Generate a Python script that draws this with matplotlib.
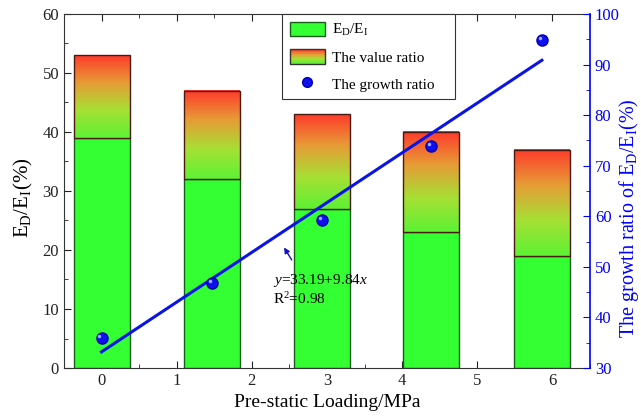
import numpy as np
import matplotlib
matplotlib.use("Agg")
import matplotlib.pyplot as plt
from matplotlib.colors import LinearSegmentedColormap
from matplotlib.patches import Rectangle, Patch
from matplotlib.lines import Line2D
from matplotlib.legend_handler import HandlerBase
from matplotlib.ticker import MultipleLocator
import matplotlib.transforms as mtransforms

plt.rcParams['font.family'] = ['Liberation Serif', 'DejaVu Serif']
plt.rcParams['mathtext.fontset'] = 'custom'
plt.rcParams['mathtext.rm'] = 'Liberation Serif'
plt.rcParams['mathtext.it'] = 'Liberation Serif:italic'

# data
loading = [0, 1.47, 2.93, 4.39, 5.86]       # pre-static loading (MPa)
ed_ei = [39, 32, 27, 23, 19]                  # E_D/E_I (%)
value_ratio = [53, 47, 43, 40, 37]            # top of bar (%)
growth_ratio = [35.9, 46.8, 59.3, 73.9, 94.9] # growth ratio (%)
fit_a, fit_b = 33.19, 9.84
r2 = 0.98

bar_w = 0.745
cmap = LinearSegmentedColormap.from_list(
    'grad', ['#5cf235', '#a6e034', '#e69c36', '#ff3a2c'])

fig = plt.figure(figsize=(6.41, 4.2), dpi=100)
ax = fig.add_axes([0.0998, 0.1238, 0.8206, 0.8429])
ax2 = ax.twinx()

grad = np.linspace(0, 1, 256).reshape(-1, 1)
for x, g, t in zip(loading, ed_ei, value_ratio):
    ax.bar(x, g, width=bar_w, color='#33ff33', edgecolor='#1a5c1a', lw=1, zorder=2)
    ax.imshow(grad, extent=[x - bar_w / 2, x + bar_w / 2, g, t], origin='lower',
              cmap=cmap, aspect='auto', zorder=2)
    ax.add_patch(Rectangle((x - bar_w / 2, g), bar_w, t - g, fill=False,
                           ec='#4a1a10', lw=1, zorder=3))

ax.set_xlim(-0.5, 6.5)
ax.set_ylim(0, 60)
ax.xaxis.set_major_locator(MultipleLocator(1))
ax.xaxis.set_minor_locator(MultipleLocator(0.5))
ax.yaxis.set_major_locator(MultipleLocator(10))
ax.yaxis.set_minor_locator(MultipleLocator(5))
ax.tick_params(which='both', direction='in', top=True, right=False,
               labelsize=12, colors='#222222')
ax.tick_params(which='major', length=5)
ax.tick_params(which='minor', length=3)
ax.spines['right'].set_visible(False)
for s in ['left', 'top', 'bottom']:
    ax.spines[s].set_color('#333333')
ax.set_xlabel('Pre-static Loading/MPa', fontsize=14, labelpad=4)
ax.set_ylabel(r'E$_\mathrm{D}$/E$_\mathrm{I}$(%)', fontsize=15)
ax.yaxis.set_label_coords(-0.055, 0.48)

# growth ratio on the right axis
xs = np.array([loading[0], loading[-1]])
ax2.plot(xs, fit_a + fit_b * xs, color='#0a14e6', lw=2.2, zorder=4)
ax2.plot(loading, growth_ratio, 'o', color='#1010ee', mec='#0000aa', ms=8, zorder=5)
hl = mtransforms.offset_copy(ax2.transData, fig=fig, x=-1.5, y=1.5, units='points')
ax2.plot(loading, growth_ratio, 'o', color='#9fb0ff', mec='none', ms=2.5,
         transform=hl, zorder=6)
ax2.set_ylim(30, 100)
ax2.yaxis.set_major_locator(MultipleLocator(10))
ax2.yaxis.set_minor_locator(MultipleLocator(5))
ax2.tick_params(which='both', direction='in', colors='blue', labelsize=12)
ax2.tick_params(which='major', length=5)
ax2.tick_params(which='minor', length=3)
ax2.spines['right'].set_color('blue')
ax2.spines['right'].set_linewidth(1.2)
for s in ['left', 'top', 'bottom']:
    ax2.spines[s].set_visible(False)
ax2.set_ylabel(r'The growth ratio of E$_\mathrm{D}$/E$_\mathrm{I}$(%)',
               fontsize=14.5, color='blue')
ax2.yaxis.set_label_coords(1.051, 0.424)

ax2.annotate('', xy=(2.41, 54.3), xytext=(2.55, 50.9),
             arrowprops=dict(arrowstyle='-|>', color='#1010cc', lw=1,
                             mutation_scale=8))
ax2.text(2.28, 49.0, r'$y$=%.2f+%.2f$x$' % (fit_a, fit_b) + '\n' + r'R$^2$=%.2f' % r2,
         fontsize=11, va='top', ha='left', linespacing=1.2, zorder=7)


class GradientHandler(HandlerBase):
    def create_artists(self, legend, orig_handle, xdescent, ydescent,
                       width, height, fontsize, trans):
        n = 24
        arts = []
        for i in range(n):
            arts.append(Rectangle((-xdescent, -ydescent + i * height / n), width,
                                  height / n, fc=cmap(i / (n - 1)), ec='none',
                                  transform=trans))
        arts.append(Rectangle((-xdescent, -ydescent), width, height, fill=False,
                              ec='#333333', lw=1, transform=trans))
        return arts


h1 = Patch(fc='#33ff33', ec='#1a5c1a')
h2 = Patch(fc='none')
h3 = Line2D([], [], ls='none', marker='o', color='#1010ee', mec='#0000aa', ms=7)
leg = ax2.legend([h1, h2, h3],
                 [r'E$_\mathrm{D}$/E$_\mathrm{I}$', 'The value ratio', 'The growth ratio'],
                 handler_map={h2: GradientHandler()},
                 loc='upper left', bbox_to_anchor=(0.4145, 0, 0.329, 1.0),
                 mode='expand', borderaxespad=0,
                 fontsize=11, handlelength=2.3, handleheight=1.05, fancybox=False,
                 edgecolor='#333333', framealpha=1, labelspacing=0.75,
                 borderpad=0.5, handletextpad=0.5)
leg.get_frame().set_linewidth(0.8)
leg.set_zorder(10)

fig.savefig('out.png', dpi=100)
